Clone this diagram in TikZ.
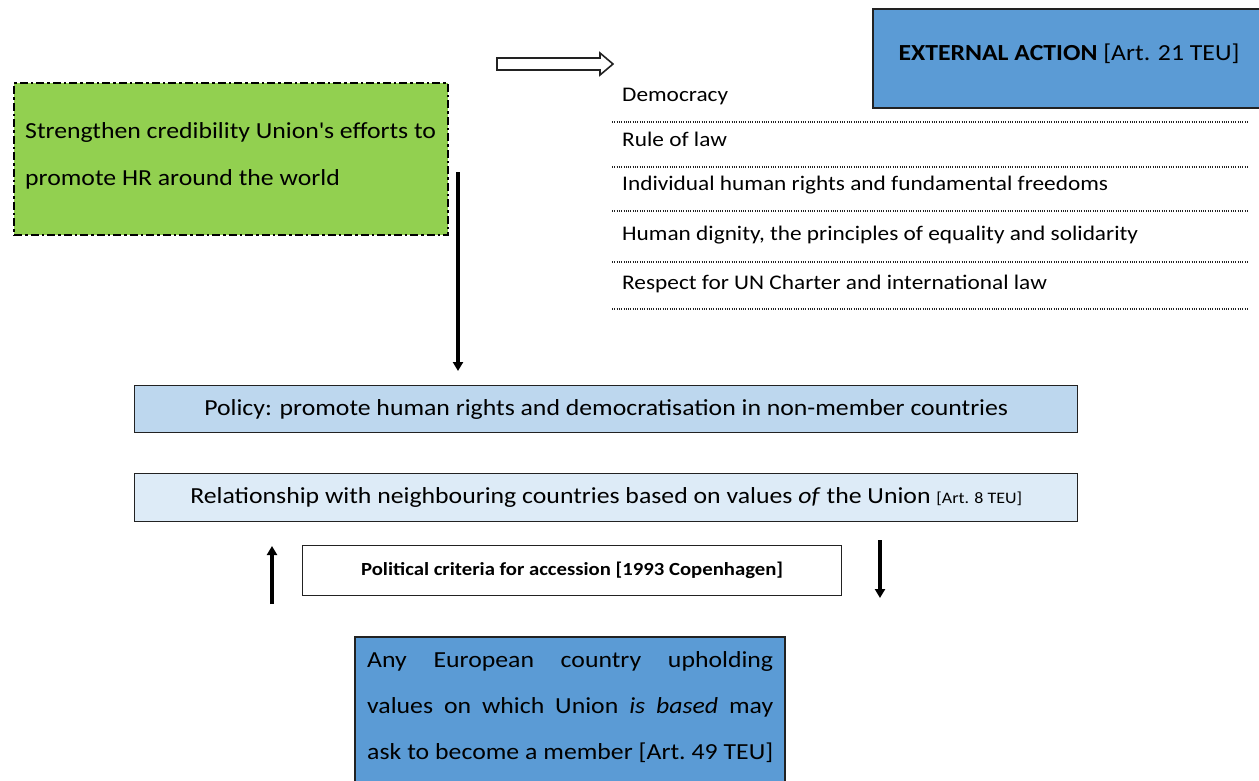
\documentclass[tikz,border=0pt]{standalone}
\usepackage{fontspec}
\setmainfont{Carlito}[FakeStretch=1.12]
\usetikzlibrary{arrows.meta}
\definecolor{deepblue}{HTML}{5B9BD5}
\definecolor{leafgreen}{HTML}{92D050}
\definecolor{paleblue}{HTML}{BDD7EE}
\definecolor{paleblue2}{HTML}{DDEBF7}
\definecolor{inkline}{HTML}{222222}
\begin{document}
\begin{tikzpicture}[x=1pt,y=-1pt,
  box/.style={draw=inkline,line width=1.4pt,inner sep=0pt},
  item/.style={anchor=west,inner sep=0pt,font=\fontsize{20.8}{24}\selectfont,text height=15pt,text depth=4pt},
  rule/.style={draw=inkline,line width=1.1pt,dash pattern=on 1pt off 1.3pt},
  bigarrow/.style={line width=3.6pt,-{Triangle[length=9pt,width=10pt]}},
]
\useasboundingbox (0,0) rectangle (1259,780);

% External action header box
\filldraw[box,fill=deepblue] (873,9) rectangle (1265,108);
\node[inner sep=0pt,font=\fontsize{23}{26}\selectfont] (ext) at (1069,54) {\textbf{EXTERNAL ACTION} [Art. 21 TEU]};

% hollow pointer arrow
\draw[line width=1.6pt,draw=inkline,fill=white,line join=miter]
  (497,58) -- (600,58) -- (600,53) -- (613,64) -- (600,75) -- (600,70) -- (497,70) -- cycle;

% green goal box
\node[box,fill=leafgreen,draw=black,line width=2pt,dash pattern=on 8pt off 3pt on 2.5pt off 3pt,minimum width=434pt,minimum height=152pt,anchor=north west] (green) at (13,82) {};
\node[anchor=north west,inner sep=0pt,align=left,font=\fontsize{23}{47}\selectfont] (greentext) at (25,122)
  {Strengthen credibility Union\textquotesingle s efforts to\\promote HR around the world};

% list of values
\node[item] (v1) at (622,96) {Democracy};
\node[item] (v2) at (622,141) {Rule of law};
\node[item] (v3) at (622,185) {Individual human rights and fundamental freedoms};
\node[item] (v4) at (622,235) {Human dignity, the principles of equality and solidarity};
\node[item] (v5) at (622,284) {Respect for UN Charter and international law};
\draw[rule] (612,122) -- (1247,122);
\draw[rule] (612,167) -- (1247,167);
\draw[rule] (612,211) -- (1247,211);
\draw[rule] (612,262) -- (1247,262);
\draw[rule] (612,309) -- (1247,309);

% policy and relationship boxes
\node[box,fill=paleblue,minimum width=943pt,minimum height=47pt,anchor=north west,font=\fontsize{23}{26}\selectfont] (policy) at (134,385)
  {Policy: promote human rights and democratisation in non-member countries};
\node[box,fill=paleblue2,minimum width=943pt,minimum height=48pt,anchor=north west,font=\fontsize{23}{26}\selectfont] (rel) at (134,473)
  {Relationship with neighbouring countries based on values \textit{of} the Union {\fontsize{16}{18}\selectfont[Art. 8 TEU]}};

% accession criteria
\node[box,fill=white,line width=1.2pt,minimum width=539pt,minimum height=50pt,anchor=north west,font=\fontsize{18.5}{21}\selectfont\bfseries] (crit) at (302,545)
  {Political criteria for accession [1993 Copenhagen]};

% membership box
\filldraw[box,fill=deepblue] (355,790) -- (355,637) -- (785,637) -- (785,790);
\node[anchor=north west,inner sep=0pt,align=left,font=\fontsize{23}{46}\selectfont] (member) at (367,651)
  {\hbox to 406pt{Any\hfill European\hfill country\hfill upholding}\\
   \hbox to 406pt{values\hfill on\hfill which\hfill Union\hfill \textit{is}\hfill \textit{based}\hfill may}\\
   \hbox to 406pt{ask\hfill to\hfill become\hfill a\hfill member\hfill [Art.\hfill 49\hfill TEU]}};

% connectors
\coordinate (gdown) at (458,172);
\draw[bigarrow,shorten >=14pt] (gdown) -- (gdown |- policy.north);
\coordinate (upfoot) at (272,604);
\coordinate (uptip) at (272,546);
\draw[bigarrow] (upfoot) -- (uptip);
\coordinate (dntop) at (880,540);
\coordinate (dntip) at (880,598);
\draw[bigarrow] (dntop) -- (dntip);
\end{tikzpicture}
\end{document}
